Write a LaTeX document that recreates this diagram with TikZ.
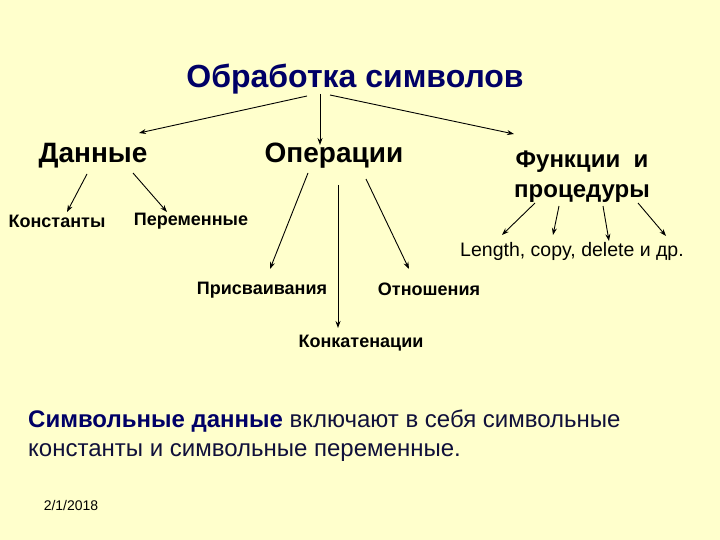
\documentclass[tikz,border=0pt]{standalone}
\usepackage{fontspec}
\setmainfont{Liberation Sans}
\usetikzlibrary{arrows.meta}
\definecolor{bg}{HTML}{FFFFCC}
\definecolor{navy}{HTML}{000066}
\definecolor{darktext}{HTML}{10103A}
\begin{document}
\begin{tikzpicture}[x=1pt,y=-1pt,
  arr/.style={draw=black, line width=0.9pt, -{Stealth[length=7pt,width=5pt]}},
  lbl/.style={inner sep=0pt, anchor=center},
  big/.style={lbl, font=\fontsize{28}{30}\selectfont\bfseries},
  mid/.style={lbl, font=\fontsize{24}{30}\selectfont\bfseries, align=center},
  small/.style={lbl, font=\fontsize{18}{20}\selectfont\bfseries},
  plain/.style={lbl, font=\fontsize{19.5}{20}\selectfont}]
\fill[bg] (0,0) rectangle (720,540);
\useasboundingbox (0,0) rectangle (720,540);

\node[lbl, text=navy, font=\fontsize{32}{34}\selectfont\bfseries] (title) at (355,79) {Обработка символов};
\node[big] (data) at (93,156) {Данные};
\node[big] (ops) at (334,156) {Операции};
\node[mid] (func) at (582,177) {Функции\ \ и\\процедуры};

\node[small] (const) at (57,221) {Константы};
\node[small] (vars) at (191,221) {Переменные};
\node[plain] (len) at (572,251) {Length, copy, delete и др.};
\node[small] (assign) at (262,290) {Присваивания};
\node[small] (rel) at (429,289) {Отношения};
\node[small] (concat) at (361,343) {Конкатенации};

\node[lbl, anchor=base west, text=darktext, align=left,
  font=\fontsize{24}{29}\selectfont] (txt) at (28,456)
  {\textcolor{navy}{\textbf{Символьные данные}} включают в себя символьные\\константы и символьные переменные.};
\node[lbl, font=\fontsize{14}{16}\selectfont] (date) at (71,505) {2/1/2018};

% title arrows
\coordinate (t1) at (307,96); \coordinate (t1e) at (139,133);
\coordinate (t2) at (320,94); \coordinate (t2e) at (320,145);
\coordinate (t3) at (330,95); \coordinate (t3e) at (514,134);
\draw[arr] (t1) -- (t1e);
\draw[arr] (t2) -- (t2e);
\draw[arr] (t3) -- (t3e);

% data arrows
\coordinate (d1) at (87,174); \coordinate (d1e) at (67,212);
\coordinate (d2) at (133,173); \coordinate (d2e) at (167,212);
\draw[arr] (d1) -- (d1e);
\draw[arr] (d2) -- (d2e);

% operations arrows
\coordinate (o1) at (308,173); \coordinate (o1e) at (270,269);
\coordinate (o2) at (338,185); \coordinate (o2e) at (338,328);
\coordinate (o3) at (366,179); \coordinate (o3e) at (409,269);
\draw[arr] (o1) -- (o1e);
\draw[arr] (o2) -- (o2e);
\draw[arr] (o3) -- (o3e);

% function arrows
\coordinate (f1) at (535,203); \coordinate (f1e) at (502,235);
\coordinate (f2) at (559,206); \coordinate (f2e) at (553,235);
\coordinate (f3) at (603,206); \coordinate (f3e) at (609,241);
\coordinate (f4) at (638,203); \coordinate (f4e) at (666,236);
\draw[arr] (f1) -- (f1e);
\draw[arr] (f2) -- (f2e);
\draw[arr] (f3) -- (f3e);
\draw[arr] (f4) -- (f4e);
\end{tikzpicture}
\end{document}
